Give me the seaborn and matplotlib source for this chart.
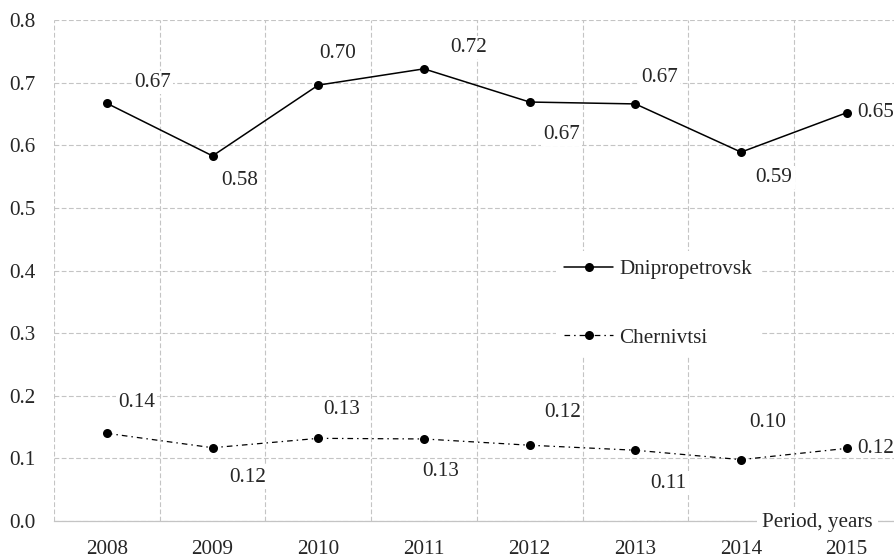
import matplotlib
matplotlib.use("Agg")
import matplotlib.pyplot as plt
import seaborn as sns
import pandas as pd
from matplotlib.ticker import FixedLocator

# ---- data ----
years = [2008, 2009, 2010, 2011, 2012, 2013, 2014, 2015]
dnipro = [0.667, 0.583, 0.696, 0.722, 0.669, 0.666, 0.589, 0.652]
cherniv = [0.140, 0.117, 0.132, 0.131, 0.121, 0.113, 0.098, 0.116]
series_names = ["Dnipropetrovsk", "Chernivtsi"]
yticks = [0.0, 0.1, 0.2, 0.3, 0.4, 0.5, 0.6, 0.7, 0.8]
x_title = "Period, years"

# label offsets in pixels (dx, dy; dy positive = down)
off_d = [(46, -21), (27, 25), (19, -32), (45, -21), (32, 32), (24, -26), (33, 25), None]
off_c = [(30, -31), (35, 30), (23, -29), (17, 33), (33, -33), (33, 33), (27, -37), None]

sns.set_style("white")
plt.rcParams["font.family"] = ["Liberation Serif", "DejaVu Serif"]
plt.rcParams["font.size"] = 15.2

W, H = 894, 560
fig = plt.figure(figsize=(W / 100, H / 100), dpi=100)
ax = fig.add_axes([54 / W, 39 / H, 845.6 / W, 501 / H])

df = pd.DataFrame({"year": years, series_names[0]: dnipro, series_names[1]: cherniv})

grid_kw = dict(color="#c4c4c4", lw=0.8, linestyle=(0, (4.3, 2.2)))

sns.lineplot(data=df, x="year", y=series_names[0], ax=ax, color="black", lw=1.1,
             marker="o", markersize=6.5, markeredgewidth=0, label=series_names[0], zorder=5)
sns.lineplot(data=df, x="year", y=series_names[1], ax=ax, color="black", lw=0.9,
             linestyle=(0, (4.5, 3.2, 1.2, 3.2)),
             marker="o", markersize=6.5, markeredgewidth=0, label=series_names[1], zorder=5)

ax.set_xlim(years[0] - 0.5, years[-1] + 0.5)
ax.set_ylim(yticks[0], yticks[-1])
ax.set_xticks(years)
ax.set_xticklabels([str(y) for y in years])
ax.set_yticks(yticks)
ax.set_yticklabels([f"{v:.1f}" for v in yticks])
ax.xaxis.set_minor_locator(FixedLocator([y - 0.5 for y in years]))
ax.tick_params(axis="both", which="both", length=0)
ax.tick_params(axis="x", pad=14)
ax.tick_params(axis="y", pad=13.5)
ax.set_xlabel("")
ax.set_ylabel("")

ax.grid(False)
ax.yaxis.grid(True, which="major", **grid_kw)
ax.xaxis.grid(True, which="minor", **grid_kw)
ax.set_axisbelow(True)
for s in ["top", "right", "left"]:
    ax.spines[s].set_visible(False)
ax.spines["bottom"].set_color("#c4c4c4")
ax.spines["bottom"].set_linewidth(0.9)
ax.spines["bottom"].set_zorder(1)

def put_labels(vals, offs):
    for x, v, o in zip(years, vals, offs):
        if o is None:
            ax.annotate(f"{v:.2f}", (x, v), xytext=(11, 0), textcoords="offset pixels",
                        ha="left", va="center", zorder=6,
                        bbox=dict(facecolor="white", edgecolor="none", pad=0.5))
        else:
            ax.annotate(f"{v:.2f}", (x, v), xytext=(o[0], -o[1]), textcoords="offset pixels",
                        ha="center", va="center", zorder=4,
                        bbox=dict(facecolor="white", edgecolor="none", pad=1.5))

put_labels(dnipro, off_d)
put_labels(cherniv, off_c)

ax.annotate(x_title, (873 / W, 1 - 522 / H), xycoords="figure fraction",
            ha="right", va="center", zorder=6,
            bbox=dict(facecolor="white", edgecolor="none", pad=4))

leg = ax.legend(loc="upper left", bbox_to_anchor=(556 / W, 1 - 251 / H),
                bbox_transform=fig.transFigure, borderaxespad=0, frameon=True,
                framealpha=1, facecolor="white", edgecolor="none", fancybox=False,
                handlelength=2.3, handletextpad=0.3, labelspacing=2.3, borderpad=0.4)
leg.set_zorder(3)

fig.savefig("out.png", dpi=100)
